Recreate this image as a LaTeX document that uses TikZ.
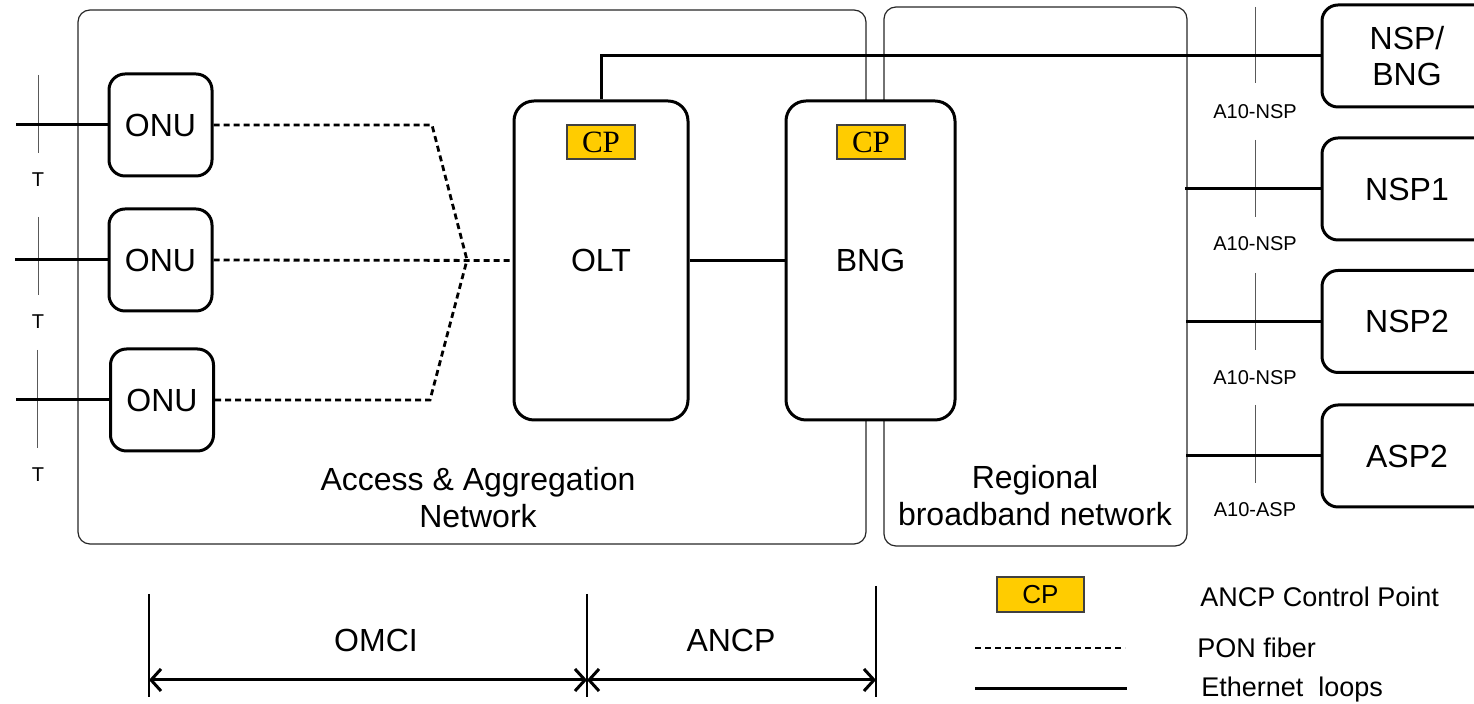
\documentclass[tikz,border=0pt]{standalone}
\usepackage{fontspec}
\setmainfont{Liberation Sans}
\newfontfamily\serifcp{Liberation Serif}
\usetikzlibrary{arrows.meta}
\definecolor{cpgold}{HTML}{FFCC00}
\begin{document}
\begin{tikzpicture}[x=0.5pt,y=-0.5pt,
  region/.style={draw=black!85, line width=0.6pt, rounded corners=6pt, inner sep=0pt},
  box/.style={draw, line width=1.5pt, rounded corners=8pt, fill=white, inner sep=0pt,
              align=center, font=\fontsize{16}{18}\selectfont},
  onubox/.style={box, minimum width=51.5pt, minimum height=51pt},
  spbox/.style={box, minimum width=85pt, minimum height=51pt},
  netbox/.style={box, rounded corners=10pt, minimum height=159.5pt},
  cpbox/.style={draw=black!75, line width=0.6pt, fill=cpgold, inner sep=0pt,
                minimum width=34pt, minimum height=17pt},
  eth/.style={line width=1.5pt},
  pon/.style={line width=1.4pt, dash pattern=on 3pt off 2pt},
  refpt/.style={draw=black!65, line width=0.5pt},
  lbl/.style={inner sep=0pt, font=\fontsize{10}{12}\selectfont},
  big/.style={inner sep=0pt, align=center, font=\fontsize{16}{18.5}\selectfont},
  legend/.style={inner sep=0pt, anchor=west, font=\fontsize{13.5}{16}\selectfont},
  span/.style={line width=1.5pt,
               arrows={Straight Barb[length=5pt,width=11pt]-Straight Barb[length=5pt,width=11pt]}}]
\useasboundingbox (0,0) rectangle (1474,704);
\clip (0,0) rectangle (1474,704);

% network domains
\node[region, minimum width=394pt, minimum height=267pt] (acc) at (472,277) {};
\node[region, minimum width=151.5pt, minimum height=269.5pt] (reg) at (1035.5,276.5) {};
\node[big] (acclbl) at (478,498) {Access \& Aggregation\\Network};
\node[big] (reglbl) at (1035,496) {Regional\\broadband network};

% access nodes
\node[onubox] (onu1) at (160.5,125) {ONU};
\node[onubox] (onu2) at (160.5,260) {ONU};
\node[onubox] (onu3) at (162,400) {ONU};
\node[netbox, minimum width=87pt] (olt) at (601,260.5) {OLT};
\node[netbox, minimum width=84.5pt] (bng) at (870.5,260.5) {BNG};
\node[cpbox, font=\serifcp\fontsize{15.5}{17}\selectfont] (cp1) at (601,142) {CP};
\node[cpbox, font=\serifcp\fontsize{15.5}{17}\selectfont] (cp2) at (871,142) {CP};

% service providers
\node[spbox] (nspbng) at (1407,56) {NSP/\\BNG};
\node[spbox] (nsp1) at (1407,189) {NSP1};
\node[spbox] (nsp2) at (1407,321.5) {NSP2};
\node[spbox] (asp2) at (1407,456) {ASP2};

% T reference points
\draw[refpt] (38,75) -- (38,153);
\draw[refpt] (38,217) -- (38,295);
\draw[refpt] (37,350) -- (37,448);
\node[lbl] (t1) at (38,180) {T};
\node[lbl] (t2) at (38,322) {T};
\node[lbl] (t3) at (38,475) {T};

% A10 reference points
\draw[refpt] (1255,7) -- (1255,83);
\draw[refpt] (1255,140) -- (1255,217);
\draw[refpt] (1255,273) -- (1255,350);
\draw[refpt] (1255,405) -- (1255,483);
\node[lbl] (a1) at (1255,112) {A10-NSP};
\node[lbl] (a2) at (1255,244) {A10-NSP};
\node[lbl] (a3) at (1255,378) {A10-NSP};
\node[lbl] (a4) at (1255,510) {A10-ASP};

% user side Ethernet
\coordinate (u1) at (16,125);
\coordinate (u2) at (15,260);
\coordinate (u3) at (16,400);
\draw[eth] (u1) -- (onu1.west);
\draw[eth] (u2) -- (onu2.west);
\draw[eth] (u3) -- (onu3.west);

% PON tree
\coordinate (split) at (467,260);
\coordinate (k1) at (432,125);
\coordinate (k3) at (430,400);
\draw[pon] (onu1.east) -- (k1) -- (split);
\draw[pon] (onu3.east) -- (k3) -- (split);
\draw[pon] (onu2.east) -- (olt.west);

% Ethernet links
\draw[eth] (olt.east) -- (bng.west);
\draw[eth] (olt.north) |- (nspbng.west);
\coordinate (r1) at (1185,189);
\coordinate (r2) at (1186,321.5);
\coordinate (r3) at (1186,456);
\draw[eth] (r1) -- (nsp1.west);
\draw[eth] (r2) -- (nsp2.west);
\draw[eth] (r3) -- (asp2.west);

% protocol spans
\draw[line width=0.6pt] (149,594) -- (149,697);
\draw[line width=0.6pt] (587,594) -- (587,697);
\draw[line width=0.6pt] (876,586) -- (876,697);
\coordinate (s1) at (149,680);
\coordinate (s2) at (587,680);
\coordinate (s3) at (876,680);
\draw[span] (s1) -- (s2);
\draw[span] (s2) -- (s3);
\node[big] (omci) at (376,640) {OMCI};
\node[big] (ancp) at (731,640) {ANCP};

% legend
\node[cpbox, minimum width=43.5pt, minimum height=17.5pt,
      font=\fontsize{13}{15}\selectfont] (lcp) at (1040.5,594.5) {CP};
\coordinate (lp1) at (975,648);
\coordinate (lp2) at (1125,648);
\coordinate (le1) at (975,689);
\coordinate (le2) at (1127,689);
\draw[pon] (lp1) -- (lp2);
\draw[eth] (le1) -- (le2);
\node[legend] (lcptxt) at (1200,597) {ANCP Control Point};
\node[legend] (lpontxt) at (1197,648) {PON fiber};
\node[legend] (lethtxt) at (1201,690) {Ethernet\ \ loops};
\end{tikzpicture}
\end{document}
